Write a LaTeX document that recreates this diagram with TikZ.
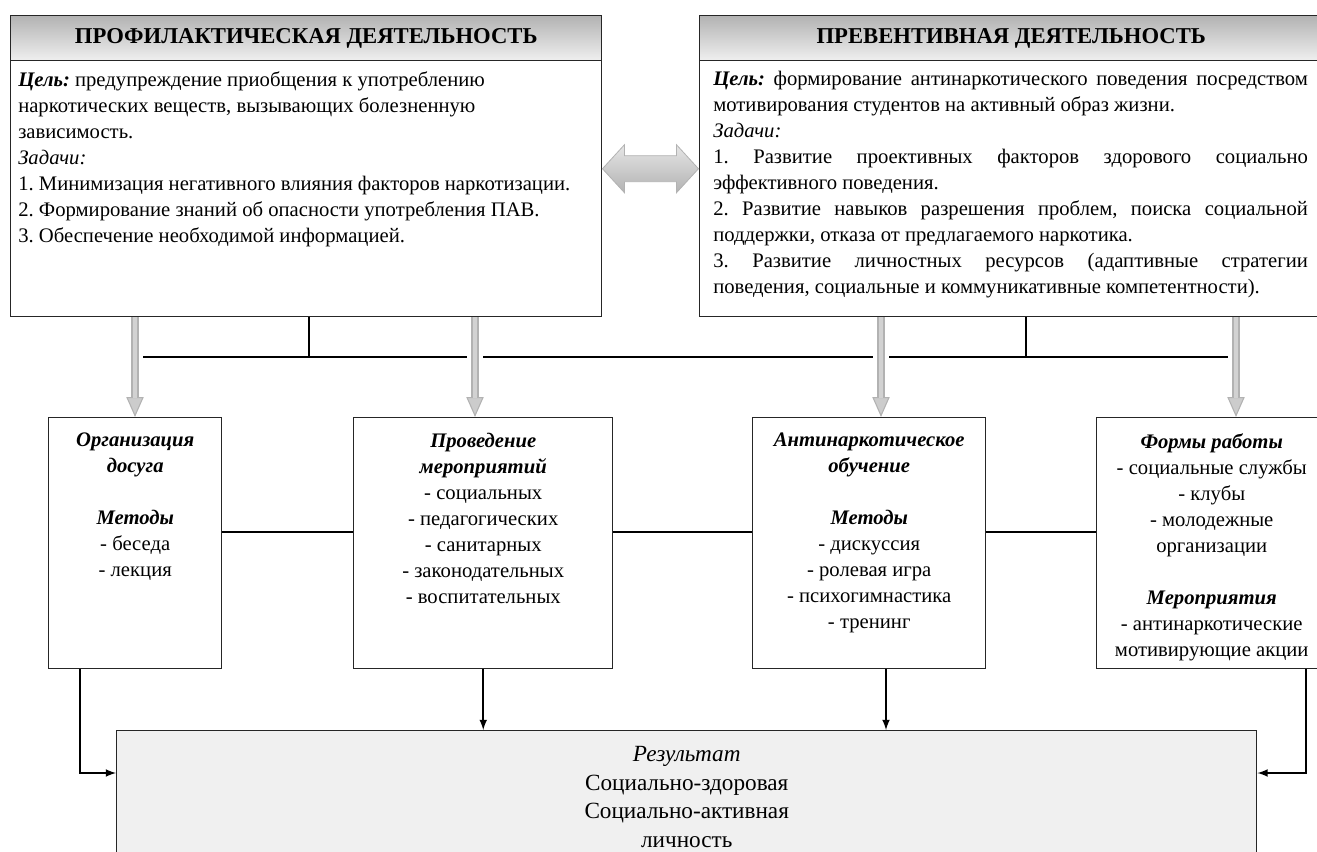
\documentclass[tikz,border=0pt]{standalone}
\usepackage{fontspec}
\setmainfont{Liberation Serif}
\usetikzlibrary{arrows.meta,calc}
\frenchspacing
\newcommand{\bodyfont}{\fontsize{15.5}{19.5}\selectfont}
\newcommand{\jline}[1]{\makebox[446pt][s]{#1}}
\newcommand{\hd}[1]{\textbf{\textit{#1}}}
\tikzset{>=latex}
\tikzset{
  box/.style = {draw=black!85, line width=1.1pt, anchor=north west, inner sep=0pt},
  headbox/.style = {box, top color=gray!60, bottom color=gray!12,
    font=\fontsize{17}{19}\selectfont\bfseries},
  txt/.style = {anchor=north west, inner sep=0pt, align=left, font=\bodyfont},
  ctxt/.style = {anchor=north, inner sep=0pt, align=center, font=\bodyfont},
  blockarrow/.style = {line width=6pt, draw=gray!60,
    -{Triangle[length=15pt,width=13pt,line width=0.8pt,fill=gray!40]},
    preaction={draw=white, line width=12pt, -, shorten >=20pt, shorten <=2pt},
    postaction={draw=gray!35, line width=3.5pt, -, shorten >=14pt}},
  link/.style = {draw, line width=0.8pt},
  flow/.style = {draw, line width=1.6pt, ->}
}
\begin{document}
\begin{tikzpicture}[x=0.75pt,y=-0.75pt]
  \useasboundingbox (0,0) rectangle (1317,852);
  % top blocks
  \node[headbox, minimum width=443.25pt, minimum height=33.75pt] (profhead) at (10,15) {ПРОФИЛАКТИЧЕСКАЯ ДЕЯТЕЛЬНОСТЬ};
  \node[box, minimum width=443.25pt, minimum height=192pt] (prof) at (10,60) {};
  \node[txt] (proftext) at (18,71) {\hd{Цель:} предупреждение приобщения к употреблению\\
    наркотических веществ, вызывающих болезненную\\
    зависимость.\\
    \textit{Задачи:}\\
    1. Минимизация негативного влияния факторов наркотизации.\\
    2. Формирование знаний об опасности употребления ПАВ.\\
    3. Обеспечение необходимой информацией.};
  \node[headbox, minimum width=467.25pt, minimum height=33.75pt] (prevhead) at (699,15) {ПРЕВЕНТИВНАЯ ДЕЯТЕЛЬНОСТЬ};
  \node[box, minimum width=467.25pt, minimum height=192pt] (prev) at (699,60) {};
  \node[txt] (prevtext) at (713,71) {\jline{\hd{Цель:} формирование антинаркотического поведения посредством}\\
    мотивирования студентов на активный образ жизни.\\
    \textit{Задачи:}\\
    \jline{1. Развитие проективных факторов здорового социально}\\
    эффективного поведения.\\
    \jline{2. Развитие навыков разрешения проблем, поиска социальной}\\
    поддержки, отказа от предлагаемого наркотика.\\
    \jline{3. Развитие личностных ресурсов (адаптивные стратегии}\\
    поведения, социальные и коммуникативные компетентности).};
  % double arrow between them
  \coordinate (dl) at ($(prof.east)+(0,-20)$);
  \draw[top color=gray!20, bottom color=gray!60, draw=gray!60, line width=0.6pt]
    (dl) -- ++(22,-24) -- ++(0,11) -- ++(52,0) -- ++(0,-11) -- ++(22,24)
    -- ++(-22,24) -- ++(0,-11) -- ++(-52,0) -- ++(0,11) -- cycle;
  % middle blocks
  \node[box, minimum width=129.75pt, minimum height=188.25pt] (dosug) at (48,417) {};
  \node[box, minimum width=194.25pt, minimum height=188.25pt] (meropr) at (353,417) {};
  \node[box, minimum width=174.75pt, minimum height=188.25pt] (obuch) at (752,417) {};
  \node[box, minimum width=172.5pt, minimum height=188.25pt] (formy) at (1096,417) {};
  \node[ctxt] (dosugtext) at ($(dosug.north)+(0,16)$) {\hd{Организация}\\ \hd{досуга}\\[\baselineskip]
    \hd{Методы}\\ - беседа\\ - лекция};
  \node[ctxt] (meroprtext) at ($(meropr.north)+(0,16)$) {\hd{Проведение}\\ \hd{мероприятий}\\
    - социальных\\ - педагогических\\ - санитарных\\ - законодательных\\ - воспитательных};
  \node[ctxt] (obuchtext) at ($(obuch.north)+(0,16)$) {\hd{Антинаркотическое}\\ \hd{обучение}\\[\baselineskip]
    \hd{Методы}\\ - дискуссия\\ - ролевая игра\\ - психогимнастика\\ - тренинг};
  \node[ctxt] (formytext) at ($(formy.north)+(0,16)$) {\hd{Формы работы}\\ - социальные службы\\ - клубы\\
    - молодежные\\ организации\\[\baselineskip] \hd{Мероприятия}\\ - антинаркотические\\ мотивирующие акции};
  % result
  \node[box, fill=black!6, minimum width=855pt, minimum height=105pt] (rezult) at (116,730) {};
  \node[ctxt, font=\fontsize{17.4}{21.5}\selectfont] (rezulttext) at ($(rezult.north)+(0,16)$) {\textit{Результат}\\
    Социально-здоровая\\ Социально-активная\\ личность};
  % connectors
  \coordinate (a1) at (135,357);
  \coordinate (a2) at (475,357);
  \coordinate (a3) at (881,357);
  \coordinate (a4) at (1236,357);
  \coordinate (s1) at (309,357);
  \coordinate (s2) at (1026,357);
  \draw[link] (s1 |- prof.south) -- (s1);
  \draw[link] (s2 |- prev.south) -- (s2);
  \draw[link] (a1) -- (a4);
  \draw[blockarrow] (a1 |- prof.south) -- (a1 |- dosug.north);
  \draw[blockarrow] (a2 |- prof.south) -- (a2 |- meropr.north);
  \draw[blockarrow] (a3 |- prev.south) -- (a3 |- obuch.north);
  \draw[blockarrow] (a4 |- prev.south) -- (a4 |- formy.north);
  \coordinate (mid) at (0,532);
  \draw[link] (dosug.east |- mid) -- (meropr.west |- mid);
  \draw[link] (meropr.east |- mid) -- (obuch.west |- mid);
  \draw[link] (obuch.east |- mid) -- (formy.west |- mid);
  \coordinate (b1) at (80,773);
  \coordinate (b3) at (886,773);
  \coordinate (b4) at (1306,773);
  \draw[flow] (b1 |- dosug.south) -- (b1) -- (b1 -| rezult.west);
  \draw[flow] (meropr.south) -- (meropr.south |- rezult.north);
  \draw[flow] (b3 |- obuch.south) -- (b3 |- rezult.north);
  \draw[flow] (b4 |- formy.south) -- (b4) -- (b4 -| rezult.east);
\end{tikzpicture}
\end{document}
